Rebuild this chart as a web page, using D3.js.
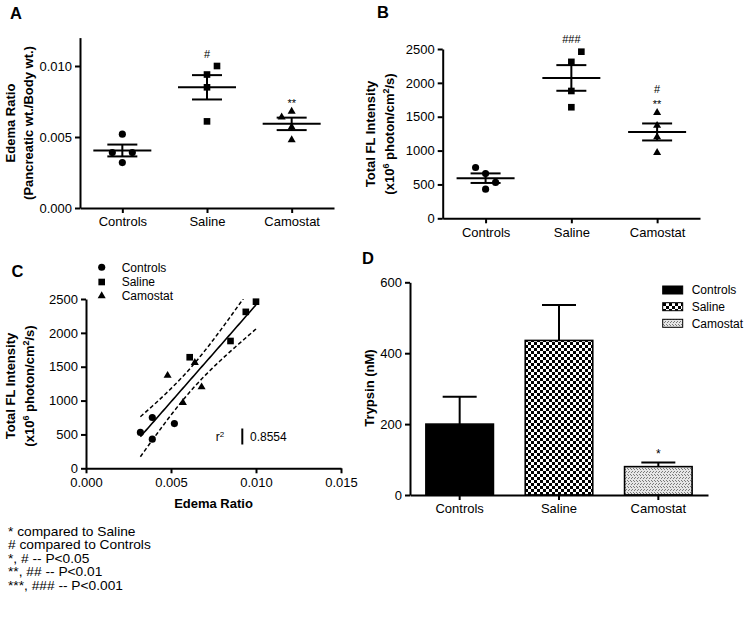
<!DOCTYPE html>
<html><head><meta charset="utf-8">
<script src="https://cdn.jsdelivr.net/npm/d3@7/dist/d3.min.js"></script>
<style>html,body{margin:0;padding:0;background:#fff;}svg{display:block;}</style>
</head><body>
<svg id="chart" width="746" height="622"></svg>
<script>
// ---------------- DATA ----------------
const groups = ["Controls", "Saline", "Camostat"];
// per-animal values (same animal order in edema and FL arrays)
const edemaControls = [0.0052, 0.0039, 0.0039, 0.0032];
const edemaSaline   = [0.0100, 0.0094, 0.0085, 0.0061];
const edemaCamostat = [0.0064, 0.0048, 0.0068, 0.0057];
const flControls = [660, 750, 430, 530];
const flSaline   = [2460, 2310, 1880, 1640];
const flCamostat = [1560, 1370, 1200, 970];
// trypsin (bar chart), mean and SEM
const trypsinMean = [200, 436, 80];
const trypsinSem  = [77, 100, 12];
// tick values
const edemaTicks   = [0, 0.005, 0.010];
const flTicks      = [0, 500, 1000, 1500, 2000, 2500];
const edemaXTicks  = [0, 0.005, 0.010, 0.015];
const trypsinTicks = [0, 200, 400, 600];
// significance marks (bottom line first)
const sigA = [[], ["#"], ["**"]];
const sigB = [[], ["###"], ["**", "#"]];
const sigD = [[], [], ["*"]];
const r2Label = "0.8554";
const footnotes = ["* compared to Saline", "# compared to Controls", "*, # -- P<0.05", "**, ## -- P<0.01", "***, ### -- P<0.001"];

// ---------------- SETUP ----------------
const FONT = '"Liberation Sans", Arial, Helvetica, sans-serif';
const svg = d3.select("#chart").attr("font-family", FONT);
svg.append("rect").attr("width", 746).attr("height", 622).attr("fill", "#fff");
const defs = svg.append("defs");

const pc = defs.append("pattern").attr("id", "checker").attr("patternUnits", "userSpaceOnUse")
  .attr("width", 6).attr("height", 6);
pc.append("rect").attr("width", 6).attr("height", 6).attr("fill", "#fff");
pc.append("rect").attr("width", 3).attr("height", 3).attr("fill", "#000");
pc.append("rect").attr("x", 3).attr("y", 3).attr("width", 3).attr("height", 3).attr("fill", "#000");

const ps = defs.append("pattern").attr("id", "speckle").attr("patternUnits", "userSpaceOnUse")
  .attr("width", 6).attr("height", 6);
ps.append("rect").attr("width", 6).attr("height", 6).attr("fill", "#e6e6e6");
[[0,0],[1,1],[3,0],[4,1],[2,3],[5,3],[1,4],[4,4]].forEach(p =>
  ps.append("rect").attr("x", p[0]).attr("y", p[1]).attr("width", 1).attr("height", 1).attr("fill", "#7a7a7a"));

const symbolTypes = [d3.symbolCircle, d3.symbolSquare, d3.symbolTriangle];
const symbolSizes = [40, 44, 28];

function styleAxis(g, fs) {
  g.attr("font-family", FONT).attr("font-size", fs || 13);
  g.select(".domain").attr("stroke", "#000").attr("stroke-width", 2);
  g.selectAll(".tick line").attr("stroke", "#000").attr("stroke-width", 2);
  g.selectAll(".tick text").attr("fill", "#000");
}

function yTitle(lines, cx, cy) {
  lines.forEach(l => {
    const t = svg.append("text")
      .attr("transform", `translate(${l.x + 4.7},${cy}) rotate(-90)`)
      .attr("text-anchor", "middle").attr("font-weight", "bold").attr("font-size", 13).attr("fill", "#000");
    l.parts.forEach(p => {
      const ts = t.append("tspan").text(p[0]);
      if (p[1]) ts.attr("font-size", 9).attr("baseline-shift", "super");
    });
  });
}

function panelLetter(txt, x, y) {
  svg.append("text").attr("x", x).attr("y", y).attr("font-size", 16.5).attr("font-weight", "bold")
    .attr("fill", "#000").text(txt);
}

function dodge(vals, y, counter) {
  const d = 10, T = 11;
  const idx = vals.map((v, i) => i).sort((a, b) => vals[a] - vals[b]);
  const placed = [], off = new Array(vals.length);
  idx.forEach(i => {
    const py = y(vals[i]);
    const free = o => placed.every(p => p.o !== o || Math.abs(p.y - py) >= T);
    let o = 0;
    if (!free(0)) {
      const first = counter.k % 2 === 0 ? d : -d;
      counter.k++;
      o = free(first) ? first : (free(-first) ? -first : first * 2);
    }
    placed.push({ o: o, y: py });
    off[i] = o;
  });
  return off;
}

function sigMarks(lines, cx, yTop, fs) {
  let base = yTop;
  lines.forEach((t, k) => {
    const star = t[0] === "*";
    base = k === 0 ? yTop - (star ? 4.5 : 8.5) : base - 15.5;
    svg.append("text").attr("x", cx).attr("y", base).attr("text-anchor", "middle")
      .attr("font-size", fs || 11).attr("fill", "#000").text(t);
  });
}

// ---------------- SCATTER PANELS (A, B) ----------------
function scatterPanel(o) {
  const x = d3.scalePoint().domain(groups).range([o.x0, o.x1]).padding(0.5);
  const y = d3.scaleLinear().domain(o.yDomain).range([o.y0, o.y1]);
  const gy = svg.append("g").attr("transform", `translate(${o.x0},0)`)
    .call(d3.axisLeft(y).tickValues(o.ticks).tickFormat(o.fmt).tickSize(5).tickPadding(3).tickSizeOuter(0));
  styleAxis(gy);
  const gx = svg.append("g").attr("transform", `translate(0,${o.y0})`)
    .call(d3.axisBottom(x).tickSize(5).tickPadding(4).tickSizeOuter(0));
  styleAxis(gx);
  const counter = { k: 0 };
  o.data.forEach((vals, gi) => {
    const cx = x(groups[gi]);
    const offs = dodge(vals, y, counter);
    svg.append("g").selectAll("path").data(vals).join("path")
      .attr("d", d3.symbol().type(symbolTypes[gi]).size(symbolSizes[gi]))
      .attr("transform", (v, i) => `translate(${cx + offs[i]},${y(v)})`)
      .attr("fill", "#000");
    const m = d3.mean(vals), sem = d3.deviation(vals) / Math.sqrt(vals.length);
    const g = svg.append("g").attr("stroke", "#000").attr("stroke-width", 2);
    g.append("line").attr("x1", cx - 29).attr("x2", cx + 29).attr("y1", y(m)).attr("y2", y(m));
    g.append("line").attr("x1", cx).attr("x2", cx).attr("y1", y(m - sem)).attr("y2", y(m + sem));
    [m - sem, m + sem].forEach(v =>
      g.append("line").attr("x1", cx - 15).attr("x2", cx + 15).attr("y1", y(v)).attr("y2", y(v)));
    sigMarks(o.sig[gi], cx, y(d3.max(vals)));
  });
}

scatterPanel({
  x0: 80, x1: 334, y0: 208, y1: 37.6, yDomain: [0, 0.012], ticks: edemaTicks,
  fmt: d3.format(".3f"), data: [edemaControls, edemaSaline, edemaCamostat], sig: sigA
});
scatterPanel({
  x0: 442.7, x1: 700, y0: 218.3, y1: 49, yDomain: [0, 2500], ticks: flTicks,
  fmt: d3.format("d"), data: [flControls, flSaline, flCamostat], sig: sigB
});

panelLetter("A", 10, 18.5);
panelLetter("B", 377, 17.5);
yTitle([{ x: 10, parts: [["Edema Ratio"]] }, { x: 28, parts: [["(Pancreatic wt./Body wt.)"]] }], 0, 123);
yTitle([{ x: 370, parts: [["Total FL Intensity"]] },
        { x: 389, parts: [["(x10"], ["6", true], [" photon/cm"], ["2", true], ["/s)"]] }], 0, 134);

// ---------------- PANEL C (correlation) ----------------
(function () {
  const x = d3.scaleLinear().domain([0, 0.015]).range([86, 341]);
  const y = d3.scaleLinear().domain([0, 2500]).range([468.3, 299]);
  const gy = svg.append("g").attr("transform", "translate(86,0)")
    .call(d3.axisLeft(y).tickValues(flTicks).tickFormat(d3.format("d")).tickSize(5).tickPadding(3).tickSizeOuter(0));
  styleAxis(gy);
  const gx = svg.append("g").attr("transform", "translate(0,468.3)")
    .call(d3.axisBottom(x).tickValues(edemaXTicks).tickFormat(d3.format(".3f")).tickSize(5).tickPadding(4).tickSizeOuter(0));
  styleAxis(gx);

  const xs = [edemaControls, edemaSaline, edemaCamostat];
  const ys = [flControls, flSaline, flCamostat];
  const allX = xs.flat(), allY = ys.flat();
  const n = allX.length, mx = d3.mean(allX), my = d3.mean(allY);
  let sxx = 0, sxy = 0, syy = 0;
  allX.forEach((v, i) => { sxx += (v - mx) ** 2; sxy += (v - mx) * (allY[i] - my); syy += (allY[i] - my) ** 2; });
  const slope = sxy / sxx, icpt = my - slope * mx;
  const s = Math.sqrt((syy - slope * sxy) / (n - 2));
  const tCrit = 2.228; // t(0.975, df = n-2 = 10)
  const xmin = d3.min(allX), xmax = d3.max(allX);
  const grid = d3.range(0, 61).map(i => xmin + (xmax - xmin) * i / 60);
  const fit = v => icpt + slope * v;
  const half = v => tCrit * s * Math.sqrt(1 / n + (v - mx) ** 2 / sxx);

  defs.append("clipPath").attr("id", "clipC").append("rect")
    .attr("x", 86).attr("y", 299).attr("width", 255).attr("height", 169.3);
  const line = d3.line().x(d => x(d[0])).y(d => y(d[1]));
  const gl = svg.append("g").attr("clip-path", "url(#clipC)").attr("fill", "none").attr("stroke", "#000");
  gl.append("path").attr("d", line(grid.map(v => [v, fit(v)]))).attr("stroke-width", 1.6);
  gl.append("path").attr("d", line(grid.map(v => [v, fit(v) + half(v)]))).attr("stroke-width", 1.5).attr("stroke-dasharray", "4,2.5");
  gl.append("path").attr("d", line(grid.map(v => [v, fit(v) - half(v)]))).attr("stroke-width", 1.5).attr("stroke-dasharray", "4,2.5");

  xs.forEach((vals, gi) => {
    svg.append("g").selectAll("path").data(vals).join("path")
      .attr("d", d3.symbol().type(symbolTypes[gi]).size(symbolSizes[gi]))
      .attr("transform", (v, i) => `translate(${x(v)},${y(ys[gi][i])})`)
      .attr("fill", "#000");
  });

  const legY = [267.3, 282, 296];
  groups.forEach((g, gi) => {
    svg.append("path").attr("d", d3.symbol().type(symbolTypes[gi]).size(symbolSizes[gi]))
      .attr("transform", `translate(101.7,${legY[gi]})`).attr("fill", "#000");
    svg.append("text").attr("x", 121.7).attr("y", legY[gi] + 4.3).attr("font-size", 12).attr("fill", "#000").text(g);
  });

  const rt = svg.append("text").attr("x", 220).attr("y", 441).attr("text-anchor", "middle").attr("font-size", 12).attr("fill", "#000");
  rt.append("tspan").text("r");
  rt.append("tspan").attr("font-size", 8).attr("baseline-shift", "super").text("2");
  svg.append("line").attr("x1", 242.3).attr("x2", 242.3).attr("y1", 428.5).attr("y2", 444.5).attr("stroke", "#000").attr("stroke-width", 2);
  svg.append("text").attr("x", 250).attr("y", 441.3).attr("font-size", 12).attr("fill", "#000").text(r2Label);

  svg.append("text").attr("x", 213.5).attr("y", 508).attr("text-anchor", "middle").attr("font-weight", "bold")
    .attr("font-size", 13).attr("fill", "#000").text("Edema Ratio");
})();
panelLetter("C", 11.5, 276.7);
yTitle([{ x: 10, parts: [["Total FL Intensity"]] },
        { x: 29, parts: [["(x10"], ["6", true], [" photon/cm"], ["2", true], ["/s)"]] }], 0, 386);

// ---------------- PANEL D (bars) ----------------
(function () {
  const x = d3.scaleBand().domain(groups).range([410, 708]).paddingInner(0.32).paddingOuter(0.16);
  const y = d3.scaleLinear().domain([0, 600]).range([495, 282.3]);
  const fills = ["#000", "url(#checker)", "url(#speckle)"];
  groups.forEach((g, gi) => {
    const cx = x(g) + x.bandwidth() / 2;
    svg.append("rect").attr("x", x(g)).attr("y", y(trypsinMean[gi])).attr("width", x.bandwidth())
      .attr("height", y(0) - y(trypsinMean[gi])).attr("fill", fills[gi]).attr("stroke", "#000").attr("stroke-width", 1.6);
    const top = trypsinMean[gi] + trypsinSem[gi];
    const eg = svg.append("g").attr("stroke", "#000").attr("stroke-width", 2);
    eg.append("line").attr("x1", cx).attr("x2", cx).attr("y1", y(trypsinMean[gi])).attr("y2", y(top));
    eg.append("line").attr("x1", cx - 17).attr("x2", cx + 17).attr("y1", y(top)).attr("y2", y(top));
    sigMarks(sigD[gi], cx, y(top), 12);
  });
  const gy = svg.append("g").attr("transform", "translate(410,0)")
    .call(d3.axisLeft(y).tickValues(trypsinTicks).tickFormat(d3.format("d")).tickSize(5).tickPadding(3).tickSizeOuter(0));
  styleAxis(gy);
  const gx = svg.append("g").attr("transform", "translate(0,495)")
    .call(d3.axisBottom(x).tickSize(5).tickPadding(4).tickSizeOuter(0));
  styleAxis(gx);

  const legY = [290, 306.7, 323.3];
  groups.forEach((g, gi) => {
    svg.append("rect").attr("x", 662.7).attr("y", legY[gi] - 4).attr("width", 20).attr("height", 8)
      .attr("fill", fills[gi]).attr("stroke", "#000").attr("stroke-width", 1);
    svg.append("text").attr("x", 691.7).attr("y", legY[gi] + 4.3).attr("font-size", 12).attr("fill", "#000").text(g);
  });
})();
panelLetter("D", 362, 264);
yTitle([{ x: 369, parts: [["Trypsin (nM)"]] }], 0, 388);

// ---------------- FOOTNOTES ----------------
const fn = svg.append("g").attr("transform", "translate(8,0) scale(1.1,1)");
footnotes.forEach((t, i) => {
  fn.append("text").attr("x", 0).attr("y", 536 + i * 13.4).attr("font-size", 12.5).attr("fill", "#000").text(t);
});
</script>
</body></html>
